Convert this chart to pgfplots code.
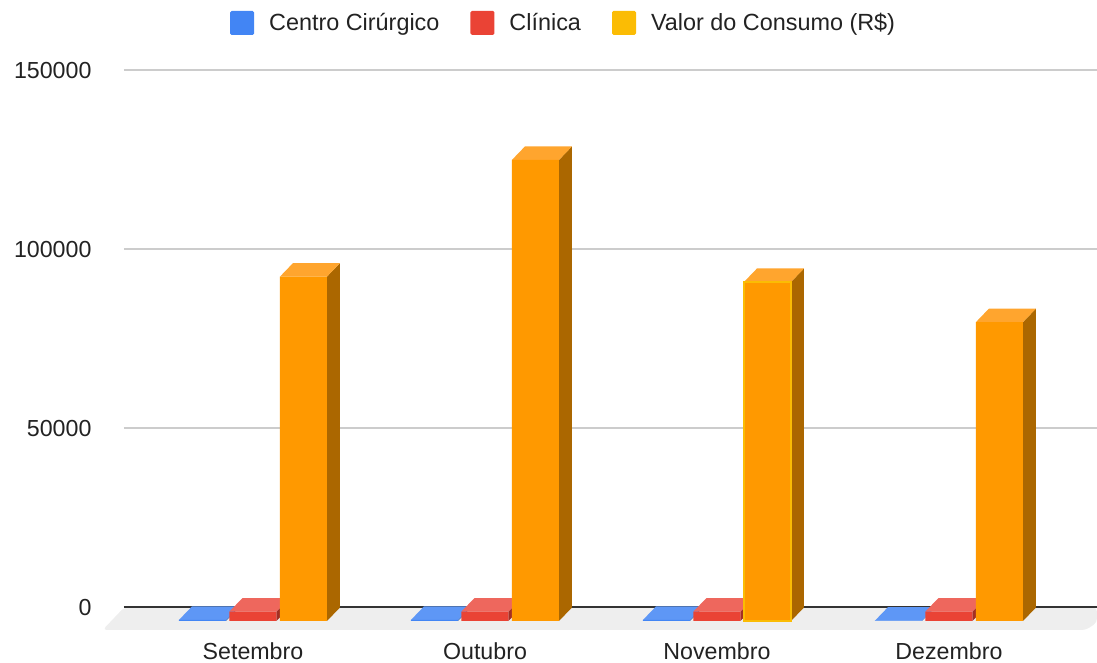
\documentclass[border=0pt]{standalone}
\usepackage{fontspec}
\setmainfont{Liberation Sans}
\usepackage{pgfplots}
\usepackage{pgfplotstable}
\pgfplotsset{compat=1.18}

\definecolor{azul}{HTML}{4285F4}
\definecolor{vermelho}{HTML}{EA4335}
\definecolor{amarelo}{HTML}{FBBC04}
\definecolor{laranja}{HTML}{FF9900}
\definecolor{azultopo}{HTML}{5E97F6}
\definecolor{vermtopo}{HTML}{EE675D}
\definecolor{lartopo}{HTML}{FFA52E}
\definecolor{azullado}{HTML}{2E5DAB}
\definecolor{vermlado}{HTML}{A32F25}
\definecolor{larlado}{HTML}{AB6700}
\definecolor{piso}{HTML}{EEEEEE}
\definecolor{grade}{HTML}{CCCCCC}
\definecolor{texto}{HTML}{222222}

% values per month
\pgfplotstableread{
x centro clinica consumo
0 300 2650 96200
1 300 2650 128800
2 300 2650 94700
3 100 2650 83500
}\dados

% depth of the fake 3D: 13 px across, 13.5 px up
\newcommand{\caixa}[5]{% month, bar shift in px, value, top colour, side colour
  \pgfmathsetmacro{\xa}{#1+(#2-23.5)/232}
  \pgfmathsetmacro{\xb}{#1+(#2+23.5)/232}
  \pgfmathsetmacro{\xc}{\xa+13/232}
  \pgfmathsetmacro{\xd}{\xb+13/232}
  \edef\yt{\the\numexpr#3+3771\relax}
  \addplot[forget plot,sharp plot,no markers,draw=none,fill=#5,yshift=-13.5pt] coordinates {(\xb,0) (\xd,3771) (\xd,\yt) (\xb,#3)} --cycle;
  \addplot[forget plot,sharp plot,no markers,draw=none,fill=#4,yshift=-13.5pt] coordinates {(\xa,#3) (\xb,#3) (\xd,\yt) (\xc,\yt)} --cycle;
}

\begin{document}
\begin{tikzpicture}
\path[use as bounding box] (-124pt,-55.5pt) rectangle (973pt,607.5pt);
\begin{axis}[
    at={(0pt,0pt)}, anchor=south west,
    scale only axis,
    width=973pt, height=537pt,
    xmin=-0.556, xmax=3.638,
    ymin=0, ymax=150000,
    clip=false,
    axis line style={draw=none},
    major tick style={draw=none},
    ymajorgrids,
    major grid style={draw=grade,line width=2pt},
    ytick={0,50000,100000,150000},
    xtick={0,1,2,3},
    xticklabels={Setembro,Outubro,Novembro,Dezembro},
    scaled y ticks=false,
    /pgf/number format/assume math mode=true,
    yticklabel={\pgfmathprintnumber[fixed,1000 sep={}]{\tick}},
    tick label style={font=\fontsize{23.2}{26}\selectfont,text=texto},
    xticklabel style={yshift=-27pt},
    yticklabel style={xshift=-29pt},
    ybar,
    bar width=47pt,
    legend columns=3,
    legend style={
        draw=none,fill=none,
        font=\fontsize{23.4}{26}\selectfont,
        text=texto,
        at={(rel axis cs:0.4518,1.0885)},anchor=center,
        /tikz/every even column/.append style={column sep=29pt},
        /tikz/every odd column/.append style={column sep=13pt},
    },
    legend image code/.code={\path[#1,draw=none,rounded corners=1.5pt] (0pt,-12pt) rectangle (24pt,12pt);},
]
% floor and baseline
\addplot[forget plot,draw=none,fill=piso,rounded corners=4pt,no markers,sharp plot]
    coordinates {(-0.648,-6285) (-0.556,0) (3.638,0) (3.638,-4200) (3.59,-6285)} --cycle;
\addplot[forget plot,sharp plot,no markers,draw=black!80,line width=2pt]
    coordinates {(-0.556,0) (3.638,0)};

% blue
\caixa{0}{-50.5}{300}{azultopo}{azullado}
\caixa{1}{-50.5}{300}{azultopo}{azullado}
\caixa{2}{-50.5}{300}{azultopo}{azullado}
\caixa{3}{-50.5}{100}{azultopo}{azullado}
\addplot[forget plot,draw=none,fill=azul,bar shift=-50.5pt,yshift=-13.5pt] table[x=x,y=centro] {\dados};
% red
\caixa{0}{0}{2650}{vermtopo}{vermlado}
\caixa{1}{0}{2650}{vermtopo}{vermlado}
\caixa{2}{0}{2650}{vermtopo}{vermlado}
\caixa{3}{0}{2650}{vermtopo}{vermlado}
\addplot[forget plot,draw=none,fill=vermelho,bar shift=0pt,yshift=-13.5pt] table[x=x,y=clinica] {\dados};
% orange
\caixa{0}{50.5}{96200}{lartopo}{larlado}
\caixa{1}{50.5}{128800}{lartopo}{larlado}
\caixa{2}{50.5}{94700}{lartopo}{larlado}
\caixa{3}{50.5}{83500}{lartopo}{larlado}
\addplot[forget plot,draw=none,fill=laranja,bar shift=50.5pt,yshift=-13.5pt] table[x=x,y=consumo] {\dados};
% Novembro has a yellow outline
\addplot[forget plot,draw=amarelo,line width=1.5pt,fill=laranja,bar shift=50.5pt,yshift=-13.5pt] coordinates {(2,94700)};

\addlegendimage{fill=azul,draw=none}
\addlegendentry{Centro Cirúrgico}
\addlegendimage{fill=vermelho,draw=none}
\addlegendentry{Clínica}
\addlegendimage{fill=amarelo,draw=none}
\addlegendentry{Valor do Consumo (R\$)}
\end{axis}
\end{tikzpicture}
\end{document}
